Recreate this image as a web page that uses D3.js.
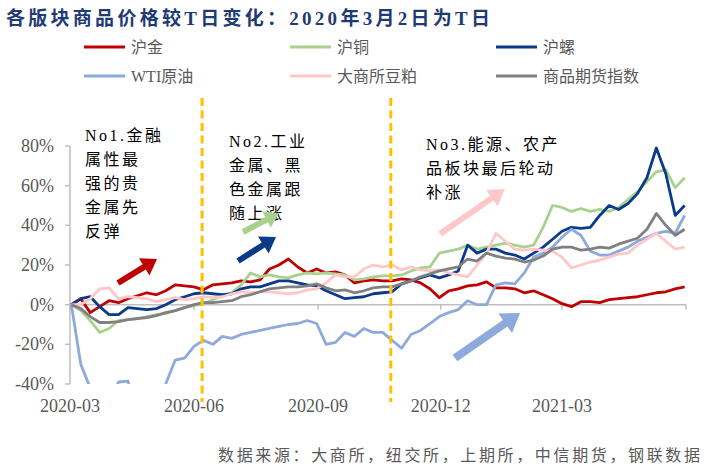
<!DOCTYPE html>
<html>
<head>
<meta charset="utf-8">
<script src="https://d3js.org/d3.v7.min.js"></script>
<style>
  body { margin: 0; background: #fff; }
  text { font-family: "Liberation Serif", "Noto Sans CJK SC", serif; }
  .tick-label { fill: #595959; font-size: 18px; }
  .legend-label { fill: #595959; font-size: 16px; }
  .note { fill: #000; font-size: 16px; letter-spacing: 2.5px; }
</style>
</head>
<body>
<svg id="chart" width="709" height="472"></svg>
<script>
// weekly samples, T day = 2020-03-02
const dates = [
  "2020-03-02","2020-03-09","2020-03-16","2020-03-23","2020-03-30",
  "2020-04-06","2020-04-13","2020-04-20","2020-04-27",
  "2020-05-04","2020-05-11","2020-05-18","2020-05-25",
  "2020-06-01","2020-06-08","2020-06-15","2020-06-22","2020-06-29",
  "2020-07-06","2020-07-13","2020-07-20","2020-07-27",
  "2020-08-03","2020-08-10","2020-08-17","2020-08-24","2020-08-31",
  "2020-09-07","2020-09-14","2020-09-21","2020-09-28",
  "2020-10-05","2020-10-12","2020-10-19","2020-10-26",
  "2020-11-02","2020-11-09","2020-11-16","2020-11-23","2020-11-30",
  "2020-12-07","2020-12-14","2020-12-21","2020-12-28",
  "2021-01-04","2021-01-11","2021-01-18","2021-01-25",
  "2021-02-01","2021-02-08","2021-02-15","2021-02-22",
  "2021-03-01","2021-03-08","2021-03-15","2021-03-22","2021-03-29",
  "2021-04-05","2021-04-12","2021-04-19","2021-04-26",
  "2021-05-03","2021-05-10","2021-05-17","2021-05-24","2021-05-31"
];

// % change vs T day
const huJin = [0,3,-4,-1,2,1,3,4.5,6,5,7,10,9.5,9,7.5,10,10.5,11,12,11.5,12.5,18,20,23,19,16,18,16,16.5,15,
  11,12,12.5,12,12,13,12.5,11,8,3.5,7,8,9.5,10,11.5,8.5,8.5,8,6,7,5,3,0.5,-1,1.5,1.5,1,2.5,3,3.5,4,5,6,6.5,8,9];
const huTong = [0,-3,-8,-14,-12,-8,-7.5,-7,-6,-5,-4.5,-3,-1.5,-0.5,0.5,2.5,4.5,6,10,16,14,15,14,13.5,15,16,15.5,16,15.5,15,
  12.5,13,14,14.5,14.5,15,17,18.5,19,26,27,28,30,28,29,30,31,30,29,30,39,50,49,47,48.5,47,48,47,49,53,57,62,67,68,59,64];
const huLuo = [0,3,4,-1,-5,-5,-1.5,-2,-2.5,-2,0,2.5,4,5.5,6,5.5,5,5.5,8,9,9,10.5,12,12,11,10,9.5,7,5,3,
  3.5,4,5.5,6,6.5,10.5,12,13.5,15,13.5,15,17,30,26,28,28,26,25,23,26,29,33,37,39,38.5,39,45,50,48,51,56,64,79,66,45,50];
const wti = [0,-30,-42,-60,-50,-39,-38.5,-55,-60,-50,-40,-28,-27,-21,-18,-20,-16,-17,-15,-14,-13,-12,-11,-10,-9.5,-8,-9.5,-20,-19,-14,
  -16,-12,-14,-14,-18,-22,-15,-13,-9.5,-6,-4,-2.5,2,0,0,10,11,10.5,16,24,26,29,34,38,35,27,25,25,27,29,32,34,36,37,36,45];
const douPo = [0,0,3,8,8.5,3,4,3.5,3,1.5,2.5,3.5,2.5,3,4,3.5,4,5.5,6.5,6,6.5,6.5,6,5.5,6,7.5,8,11,15,14,
  14,18,20,19,20,17.5,19,17.5,17,17.5,16,15,14,20,26,36,32,28,27.5,28,27.5,27,24,18.5,20,21.5,22.5,24,25.5,26,30,33,36,32,28,29];
const spIndex = [0,-2,-6,-9,-9,-8.5,-7.5,-7,-6.5,-5.5,-4,-3,-1.5,0,1,1,1.5,2,4,5,6.5,8,8.5,9,9,9.5,10.5,8.5,7,7.5,
  6,7,8.5,9,9,10.5,12,14,15.5,17,18,19,23,22,26,24.5,23.5,23,21.5,22.5,24.5,28,29,29,27.5,28,29,28.5,30.5,32,33.5,38,46,40,35,38];

const seriesNames = ["沪金", "沪铜", "沪螺", "WTI原油", "大商所豆粕", "商品期货指数"];
const seriesValues = [huJin, huTong, huLuo, wti, douPo, spIndex];
const seriesColors = ["#C00000", "#A9D18E", "#0A3A8A", "#8EA9DB", "#FFC7C7", "#808080"];

const yTicks = [-40, -20, 0, 20, 40, 60, 80];
const xTickDates = ["2020-03-01", "2020-06-01", "2020-09-01", "2020-12-01", "2021-03-01", "2021-06-01"];
const xTickLabels = ["2020-03", "2020-06", "2020-09", "2020-12", "2021-03", ""];
const eventDates = ["2020-06-07", "2020-10-25"];

const parse = d3.timeParse("%Y-%m-%d");

const svg = d3.select("#chart");
const plot = { left: 70, right: 686, top: 146, bottom: 384 };

const x = d3.scaleTime()
  .domain([parse("2020-03-01"), parse("2021-06-01")])
  .range([plot.left, plot.right]);
const y = d3.scaleLinear().domain([-40, 80]).range([plot.bottom, plot.top]);

// title
svg.append("text")
  .attr("x", 6).attr("y", 25)
  .attr("fill", "#1F3B73")
  .attr("font-size", 19).attr("font-weight", "bold")
  .attr("textLength", 484).attr("lengthAdjust", "spacing")
  .text("各版块商品价格较T日变化：2020年3月2日为T日");

// legend
const legend = svg.append("g");
seriesNames.forEach((name, i) => {
  const lx = 84 + (i % 3) * 206;
  const ly = i < 3 ? 47 : 76;
  legend.append("line")
    .attr("x1", lx).attr("x2", lx + 41)
    .attr("y1", ly).attr("y2", ly)
    .attr("stroke", seriesColors[i]).attr("stroke-width", 3);
  legend.append("text")
    .attr("class", "legend-label")
    .attr("x", lx + 47).attr("y", ly + 6)
    .text(name);
});

// y axis
svg.append("line")
  .attr("x1", plot.left).attr("x2", plot.left)
  .attr("y1", plot.top).attr("y2", plot.bottom)
  .attr("stroke", "#BFBFBF").attr("stroke-width", 1.5);
yTicks.forEach(t => {
  svg.append("line")
    .attr("x1", plot.left - 5).attr("x2", plot.left)
    .attr("y1", y(t)).attr("y2", y(t))
    .attr("stroke", "#BFBFBF").attr("stroke-width", 1.5);
  svg.append("text")
    .attr("class", "tick-label")
    .attr("x", 54).attr("y", y(t) + 6)
    .attr("text-anchor", "end")
    .text(t + "%");
});

// x axis on the zero line
svg.append("line")
  .attr("x1", plot.left).attr("x2", plot.right)
  .attr("y1", y(0)).attr("y2", y(0))
  .attr("stroke", "#BFBFBF").attr("stroke-width", 1.5);
xTickDates.forEach((d, i) => {
  const tx = x(parse(d));
  svg.append("line")
    .attr("x1", tx).attr("x2", tx)
    .attr("y1", y(0)).attr("y2", y(0) + 5)
    .attr("stroke", "#BFBFBF").attr("stroke-width", 1.5);
  svg.append("text")
    .attr("class", "tick-label")
    .attr("x", tx).attr("y", 412)
    .attr("text-anchor", "middle")
    .text(xTickLabels[i]);
});

// lines
svg.append("clipPath").attr("id", "clip")
  .append("rect")
  .attr("x", plot.left).attr("y", 100)
  .attr("width", plot.right - plot.left + 2)
  .attr("height", plot.bottom - 100);

const line = d3.line()
  .x((d, i) => x(parse(dates[i])))
  .y(d => y(d));

const lines = svg.append("g").attr("clip-path", "url(#clip)");
seriesValues.forEach((vals, i) => {
  lines.append("path")
    .datum(vals)
    .attr("fill", "none")
    .attr("stroke", seriesColors[i])
    .attr("stroke-width", 2.8)
    .attr("stroke-linejoin", "round")
    .attr("d", line);
});

// event lines
eventDates.forEach(d => {
  svg.append("line")
    .attr("x1", x(parse(d))).attr("x2", x(parse(d)))
    .attr("y1", 98).attr("y2", 402)
    .attr("stroke", "#FFC000").attr("stroke-width", 3)
    .attr("stroke-dasharray", "8,4.5");
});

// notes
const notes = [
  { x: 85, y: 141, lines: ["No1.金融", "属性最", "强的贵", "金属先", "反弹"] },
  { x: 229, y: 147, lines: ["No2.工业", "金属、黑", "色金属跟", "随上涨"] },
  { x: 426, y: 150, lines: ["No3.能源、农产", "品板块最后轮动", "补涨"] }
];
notes.forEach(n => {
  n.lines.forEach((s, j) => {
    svg.append("text").attr("class", "note")
      .attr("x", n.x).attr("y", n.y + j * 24)
      .text(s);
  });
});

// arrows
function arrow(x1, y1, x2, y2, shaft, headLen, headW, color) {
  const dx = x2 - x1, dy = y2 - y1;
  const len = Math.sqrt(dx * dx + dy * dy);
  const ux = dx / len, uy = dy / len;
  const px = -uy, py = ux;
  const bx = x2 - ux * headLen, by = y2 - uy * headLen;
  const pts = [
    [x1 + px * shaft / 2, y1 + py * shaft / 2],
    [bx + px * shaft / 2, by + py * shaft / 2],
    [bx + px * headW, by + py * headW],
    [x2, y2],
    [bx - px * headW, by - py * headW],
    [bx - px * shaft / 2, by - py * shaft / 2],
    [x1 - px * shaft / 2, y1 - py * shaft / 2]
  ];
  svg.append("polygon")
    .attr("points", pts.map(p => p.join(",")).join(" "))
    .attr("fill", color);
}
arrow(118, 283, 157, 259, 6, 15, 10, "#C00000");
arrow(243, 232, 279, 213, 6, 14, 9, "#A9D18E");
arrow(238, 261, 276, 237, 6, 15, 10, "#0A3A8A");
arrow(440, 234, 505, 189, 6, 16, 10, "#FFC7C7");
arrow(455, 358, 520, 313, 8, 18, 12, "#8EA9DB");

// source
svg.append("text")
  .attr("class", "legend-label")
  .attr("x", 218).attr("y", 461)
  .attr("textLength", 482).attr("lengthAdjust", "spacing")
  .text("数据来源：大商所，纽交所，上期所，中信期货，钢联数据");
</script>
</body>
</html>
